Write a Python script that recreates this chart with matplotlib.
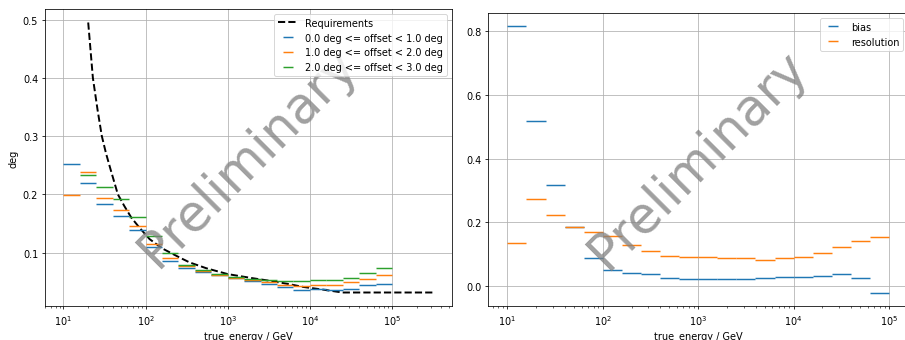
import numpy as np
import matplotlib.pyplot as plt

# energy binning (GeV), 5 bins per decade
energy_edges = [10, 15.85, 25.12, 39.81, 63.10, 100, 158.5, 251.2, 398.1, 631.0, 1000,
                1585, 2512, 3981, 6310, 10000, 15850, 25120, 39810, 63100, 100000]

# angular resolution requirement curve
req_energy = [20, 22.8, 26, 29.3, 33, 37.4, 45.9, 55, 67, 85, 112, 160, 260, 344,
              550, 1000, 2000, 3250, 5500, 8280, 15000, 25000, 320000]
req_deg = [0.495, 0.40, 0.345, 0.30, 0.27, 0.243, 0.20, 0.18, 0.160, 0.142, 0.123,
           0.107, 0.0914, 0.083, 0.073, 0.063, 0.056, 0.0515, 0.046, 0.041, 0.036,
           0.0314, 0.0314]

offset_labels = ['0.0 deg <= offset < 1.0 deg',
                 '1.0 deg <= offset < 2.0 deg',
                 '2.0 deg <= offset < 3.0 deg']
ang_res_off0 = [0.2515, 0.220, 0.184, 0.162, 0.1395, 0.109, 0.086, 0.074, 0.066, 0.062,
                0.057, 0.052, 0.0456, 0.0405, 0.0365, 0.037, 0.0353, 0.0382, 0.0439, 0.0462]
ang_res_off1 = [0.198, 0.238, 0.193, 0.1726, 0.1463, 0.1154, 0.0907, 0.077, 0.068, 0.062,
                0.057, 0.0525, 0.0496, 0.0451, 0.0434, 0.0439, 0.0439, 0.049, 0.0547, 0.0616]
ang_res_off2 = [np.nan, 0.234, 0.2125, 0.1926, 0.1606, 0.128, 0.0993, 0.079, 0.070, 0.063,
                0.058, 0.0554, 0.0525, 0.052, 0.0503, 0.0525, 0.0525, 0.0571, 0.065, 0.073]

# energy bias / resolution
bias = [0.816, 0.517, 0.318, 0.184, 0.0871, 0.0494, 0.041, 0.0357, 0.0247, 0.0199,
        0.0199, 0.022, 0.022, 0.0242, 0.0263, 0.0283, 0.0315, 0.0357, 0.0242, -0.022]
resolution = [0.1333, 0.2736, 0.2214, 0.186, 0.1689, 0.1553, 0.129, 0.109, 0.095, 0.0915,
              0.0891, 0.087, 0.087, 0.0818, 0.086, 0.089, 0.1028, 0.1217, 0.1415, 0.152]


edges = np.array(energy_edges)
lo, hi = edges[:-1], edges[1:]
center = np.sqrt(lo * hi)
xerr = [center - lo, hi - center]


def add_watermark(ax):
    ax.text(0.5, 0.5, 'Preliminary', transform=ax.transAxes, fontsize=52,
            color='gray', alpha=0.75, rotation=45, ha='center', va='center')


fig = plt.figure(figsize=(905 / 70, 341 / 70), dpi=70)

#  ANGULAR RESOLUTION
ax = fig.add_axes([0.0497, 0.0997, 0.4497, 0.871])
ax.plot(req_energy, req_deg, color='black', ls='--', lw=2, label='Requirements')
for vals, label in zip([ang_res_off0, ang_res_off1, ang_res_off2], offset_labels):
    ax.errorbar(center, vals, xerr=xerr, ls='', label=label)
ax.set_xscale('log')
ax.set_xlabel('true_energy / GeV')
ax.set_ylabel('deg')
ax.grid(visible=True)
ax.legend(loc='upper right')
add_watermark(ax)

#  ENERGY BIAS / RESOLUTION
ax2 = fig.add_axes([0.5396, 0.0997, 0.4638, 0.859])
ax2.errorbar(center, bias, xerr=xerr, ls='', label='bias')
ax2.errorbar(center, resolution, xerr=xerr, ls='', label='resolution')
ax2.set_xscale('log')
ax2.set_xlabel('true_energy / GeV')
ax2.grid(visible=True)
ax2.legend(loc='upper right')
add_watermark(ax2)

fig.savefig('out.png', dpi=70)
